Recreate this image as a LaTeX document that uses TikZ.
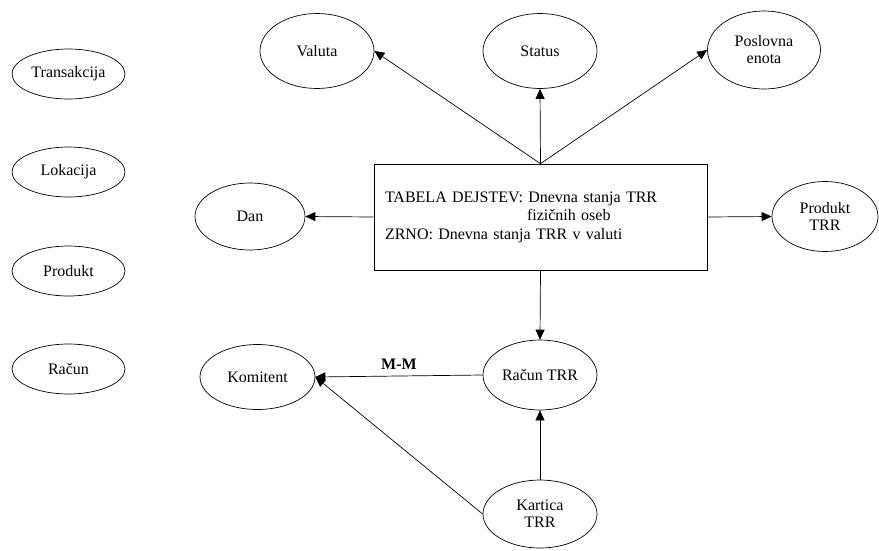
\documentclass[tikz,border=0pt]{standalone}
\usepackage{fontspec}
\setmainfont{Liberation Serif}
\usetikzlibrary{shapes.geometric,arrows.meta}
\begin{document}
\begin{tikzpicture}[x=1pt,y=-1pt,
  ent/.style={ellipse,draw,line width=0.7pt,inner sep=0pt,minimum width=114pt,minimum height=70pt,align=center,font=\fontsize{16}{17}\selectfont},
  sm/.style={ent,minimum width=113pt,minimum height=50pt},
  fact/.style={rectangle,draw,line width=0.7pt,text width=311pt,inner xsep=11pt,inner ysep=0pt,minimum height=106pt,align=left,font=\fontsize{16}{18.5}\selectfont},
  arr/.style={line width=0.7pt,-{Triangle[length=10pt,width=9pt]}}]
\useasboundingbox (0,0) rectangle (879,550);
% left column
\node[sm] (trans) at (68.5,74) {Transakcija};
\node[sm] (lok) at (68.5,172) {Lokacija};
\node[sm] (prod) at (68.5,271) {Produkt};
\node[sm] (racun) at (68.5,369) {Račun};
% top
\node[ent,minimum height=75pt] (valuta) at (317,51) {Valuta};
\node[ent,minimum height=75pt] (status) at (540,51) {Status};
\node[ent,minimum width=113pt,minimum height=78pt] (posl) at (764,50) {Poslovna\\enota};
% middle
\node[fact] (box) at (540.5,217) {TABELA DEJSTEV: Dnevna stanja TRR\\\hspace*{142pt}fizičnih oseb\\ZRNO: Dnevna stanja TRR v valuti};
\node[ent,minimum width=110pt,minimum height=67pt] (dan) at (250,216.5) {Dan};
\node[ent,minimum width=106pt,minimum height=70pt] (ptrr) at (825,216.5) {Produkt\\TRR};
% bottom
\node[ent,minimum height=70pt] (rtrr) at (540,375) {Račun TRR};
\node[ent,minimum width=115pt,minimum height=65pt] (kom) at (257.5,377) {Komitent};
\node[ent,minimum height=68pt] (ktrr) at (540,514) {Kartica\\TRR};
% connectors
\draw[arr] (box.north) -- (valuta.east);
\draw[arr] (box.north) -- (status.south);
\draw[arr] (box.north) -- (posl.west);
\draw[arr] (box.west) -- (dan.east);
\draw[arr] (box.east) -- (ptrr.west);
\draw[arr] (box.south) -- (rtrr.north);
\draw[arr] (rtrr.west) -- node[above=3pt,font=\fontsize{16}{17}\selectfont\bfseries] (mm) {M-M} (kom.east);
\draw[arr] (ktrr.north) -- (rtrr.south);
\draw[arr] (ktrr.west) -- (kom.east);
\end{tikzpicture}
\end{document}
